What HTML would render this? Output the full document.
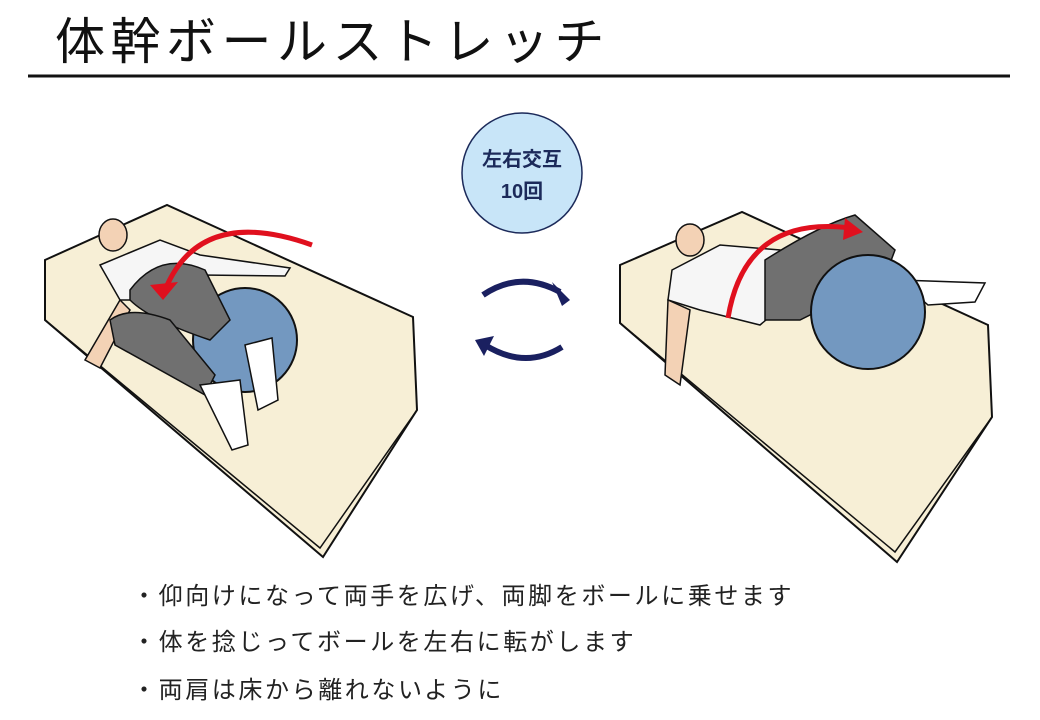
<!DOCTYPE html>
<html><head><meta charset="utf-8"><style>
body{margin:0;width:1040px;height:720px;background:#fff;overflow:hidden;position:relative;font-family:"Liberation Sans","Noto Sans CJK JP",sans-serif}
.t{position:absolute;left:55px;top:2px;font-size:50px;color:#111;letter-spacing:5.5px}
.b{position:absolute;left:132px;font-size:24px;color:#222;letter-spacing:2.6px}
</style></head><body>
<div class="t">体幹ボールストレッチ</div>
<svg width="1040" height="720" style="position:absolute;left:0;top:0">
<line x1="28" y1="76" x2="1010" y2="76" stroke="#111" stroke-width="3"/>
<!-- mat 1 -->
<polygon points="45,260 167,205 413,317 417,410 323,557 45,320" fill="#f7efd6" stroke="#111" stroke-width="2"/>
<polyline points="45,320 320,548 417,410" fill="none" stroke="#111" stroke-width="1.5"/>
<polyline points="45,260 45,318" fill="none" stroke="#111" stroke-width="1.5"/>
<!-- person 1 -->
<circle cx="245" cy="340" r="52" fill="#7398c0" stroke="#111" stroke-width="2"/>
<polygon points="100,265 160,240 200,255 290,268 285,276 200,275 140,300 120,300" fill="#f6f6f6" stroke="#111" stroke-width="1.5"/>
<ellipse cx="113" cy="235" rx="14" ry="16" fill="#f3d2b5" stroke="#111" stroke-width="1.5"/>
<path d="M120,300 L85,360 L100,368 L130,310Z" fill="#f3d2b5" stroke="#111" stroke-width="1.5"/>
<path d="M130,290 Q160,250 205,270 L230,320 L210,340 Q150,320 130,300Z" fill="#707070" stroke="#111" stroke-width="1.5"/>
<path d="M110,320 Q130,305 170,320 L215,375 L205,395 Q160,370 115,345Z" fill="#707070" stroke="#111" stroke-width="1.5"/>
<path d="M200,385 L240,380 L248,445 L232,450Z" fill="#fff" stroke="#111" stroke-width="1.5"/>
<path d="M245,345 L272,338 L278,400 L258,410Z" fill="#fff" stroke="#111" stroke-width="1.5"/>
<path d="M165,290 Q200,205 312,245" fill="none" stroke="#e0101e" stroke-width="5"/>
<polygon points="150,285 178,282 163,300" fill="#e0101e"/>
<!-- mat 2 -->
<polygon points="620,265 742,212 988,325 992,417 897,562 620,323" fill="#f7efd6" stroke="#111" stroke-width="2"/>
<polyline points="620,323 895,552 992,417" fill="none" stroke="#111" stroke-width="1.5"/>
<!-- person 2 -->
<polygon points="672,270 720,245 780,250 790,300 760,325 700,310 668,300" fill="#f6f6f6" stroke="#111" stroke-width="1.5"/>
<ellipse cx="690" cy="240" rx="14" ry="16" fill="#f3d2b5" stroke="#111" stroke-width="1.5"/>
<path d="M668,300 L665,375 L680,385 L690,310Z" fill="#f3d2b5" stroke="#111" stroke-width="1.5"/>
<path d="M765,260 Q820,225 855,215 L895,250 L880,290 L840,300 L800,320 L765,320Z" fill="#707070" stroke="#111" stroke-width="1.5"/>
<path d="M900,280 L985,283 L975,302 L928,305Z" fill="#fff" stroke="#111" stroke-width="1.5"/>
<circle cx="868" cy="312" r="57" fill="#7398c0" stroke="#111" stroke-width="2"/>
<path d="M728,318 Q745,215 850,228" fill="none" stroke="#e0101e" stroke-width="5"/>
<polygon points="845,218 863,232 843,240" fill="#e0101e"/>
<!-- badge -->
<circle cx="522" cy="173" r="60" fill="#c8e5f8" stroke="#1c2a5a" stroke-width="1.5"/>
<text x="522" y="166" text-anchor="middle" font-size="20" font-weight="bold" fill="#1c2a5a" font-family="Liberation Sans,Noto Sans CJK JP,sans-serif">左右交互</text>
<text x="522" y="198" text-anchor="middle" font-size="20" font-weight="bold" fill="#1c2a5a" font-family="Liberation Sans,Noto Sans CJK JP,sans-serif">10回</text>
<!-- cycle arrows -->
<path d="M483,295 Q520,270 560,292" fill="none" stroke="#1a2060" stroke-width="6"/>
<polygon points="570,300 552,282 562,306" fill="#1a2060"/>
<path d="M562,347 Q525,370 485,345" fill="none" stroke="#1a2060" stroke-width="6"/>
<polygon points="475,340 494,336 484,356" fill="#1a2060"/>
</svg>
<div class="b" style="top:576px">・仰向けになって両手を広げ、両脚をボールに乗せます</div>
<div class="b" style="top:622px">・体を捻じってボールを左右に転がします</div>
<div class="b" style="top:670px">・両肩は床から離れないように</div>
</body></html>
